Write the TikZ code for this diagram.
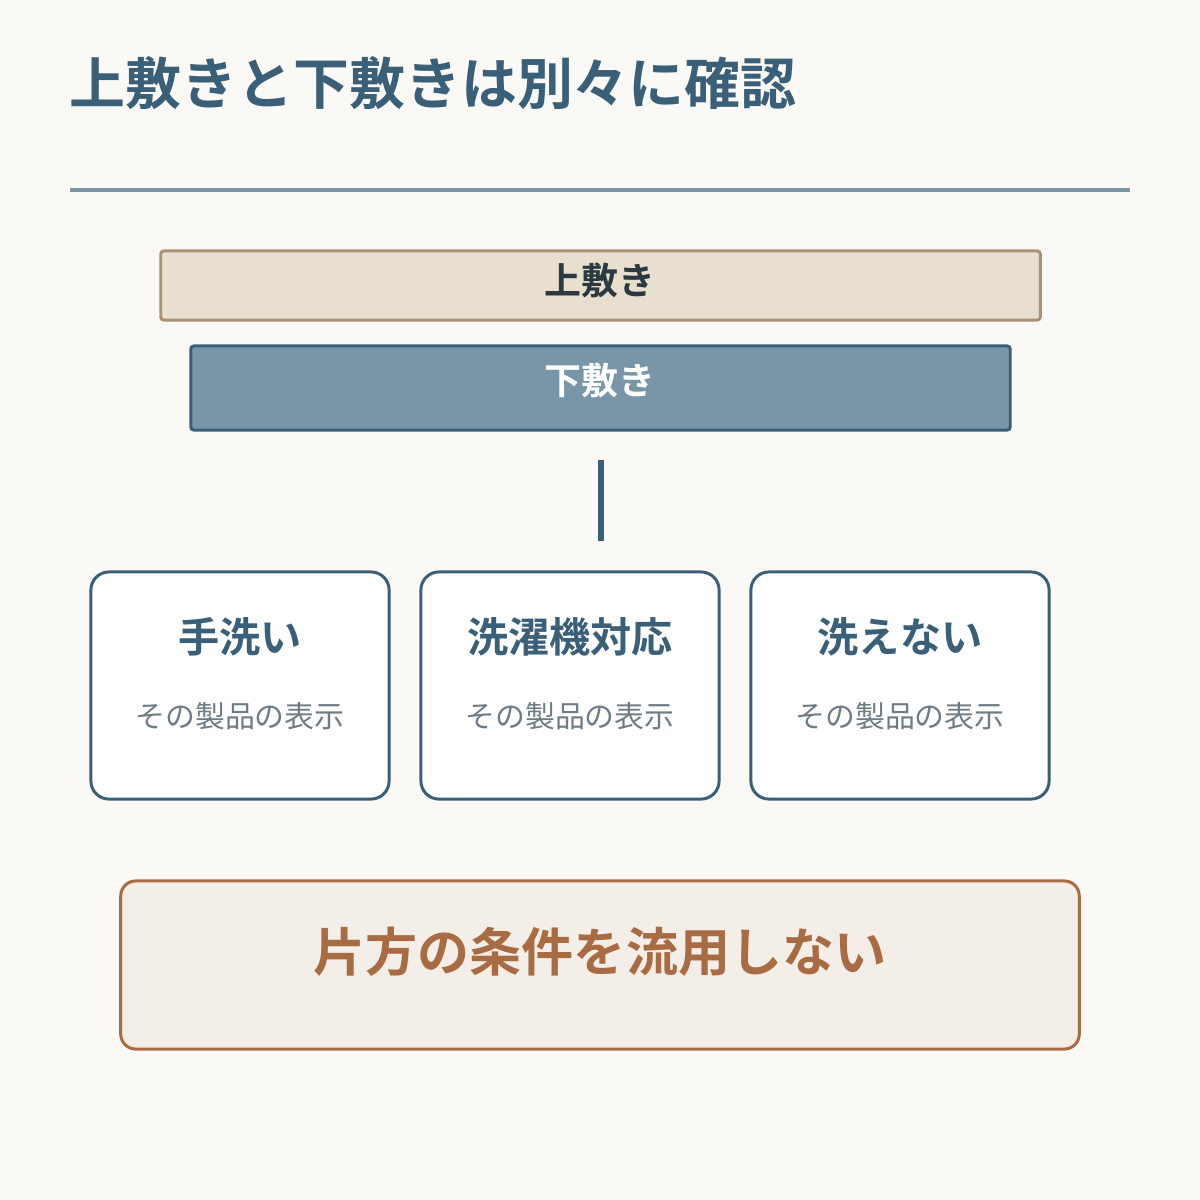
\documentclass[tikz,border=0pt]{standalone}
\usepackage{fontspec}
\setmainfont{Noto Sans CJK JP}[BoldFont={Noto Sans CJK JP Bold}]
\definecolor{bgcol}{HTML}{FAF9F5}
\definecolor{navy}{HTML}{3A5F78}
\definecolor{steel}{HTML}{7896A8}
\definecolor{sandfill}{HTML}{E8DFCE}
\definecolor{sandline}{HTML}{A89174}
\definecolor{inkdark}{HTML}{2B3A42}
\definecolor{subgray}{HTML}{6E7C85}
\definecolor{rust}{HTML}{A86B42}
\definecolor{rustfill}{HTML}{F3EEE7}
\tikzset{
	layerbox/.style={draw, line width=0.85pt, rounded corners=0.03cm, inner sep=0pt},
	layertext/.style={font=\fontsize{10.5}{12}\selectfont\bfseries},
	card/.style={draw=navy, fill=white, line width=0.85pt, rounded corners=0.18cm, minimum width=2.98cm, minimum height=2.27cm},
	cardtitle/.style={text=navy, font=\fontsize{11.7}{14}\selectfont\bfseries},
	cardsub/.style={text=subgray, font=\fontsize{8.5}{10}\selectfont},
}
\begin{document}
\begin{tikzpicture}[x=0.01cm, y=-0.01cm]
	\useasboundingbox[fill=bgcol] (0, 0) rectangle (1200, 1200);
	% heading
	\node[anchor=west, text=navy, font=\fontsize{15.9}{18}\selectfont\bfseries, inner sep=0pt] (heading) at (69, 83) {上敷きと下敷きは別々に確認};
	\draw[steel, line width=1.1pt] (70, 190) -- (1130, 190);
	% layers
	\node[layerbox, draw=sandline, fill=sandfill, minimum width=8.79cm, minimum height=0.69cm] (upper) at (600.5, 285.5) {};
	\node[layertext, text=inkdark] (upperlabel) at (600, 280) {上敷き};
	\node[layerbox, draw=navy, fill=steel, minimum width=8.19cm, minimum height=0.84cm] (lower) at (600.5, 388) {};
	\node[layertext, text=white] (lowerlabel) at (600, 380) {下敷き};
	\coordinate (stemtop) at (601, 460);
	\coordinate (stembot) at (601, 541);
	\draw[navy, line width=1.7pt] (stemtop) -- (stembot);
	% cards
	\node[card] (hand) at (240, 685.5) {};
	\node[cardtitle] (handtitle) at (240, 637) {手洗い};
	\node[cardsub] (handsub) at (240, 716) {その製品の表示};
	\node[card] (machine) at (570, 685.5) {};
	\node[cardtitle] (machinetitle) at (570, 637) {洗濯機対応};
	\node[cardsub] (machinesub) at (570, 716) {その製品の表示};
	\node[card] (nowash) at (900, 685.5) {};
	\node[cardtitle] (nowashtitle) at (900, 637) {洗えない};
	\node[cardsub] (nowashsub) at (900, 716) {その製品の表示};
	% note
	\node[draw=rust, fill=rustfill, line width=0.85pt, rounded corners=0.15cm, minimum width=9.58cm, minimum height=1.68cm] (note) at (600, 965) {};
	\node[text=rust, font=\fontsize{14.8}{17}\selectfont\bfseries] (notelabel) at (600, 952) {片方の条件を流用しない};
\end{tikzpicture}
\end{document}
